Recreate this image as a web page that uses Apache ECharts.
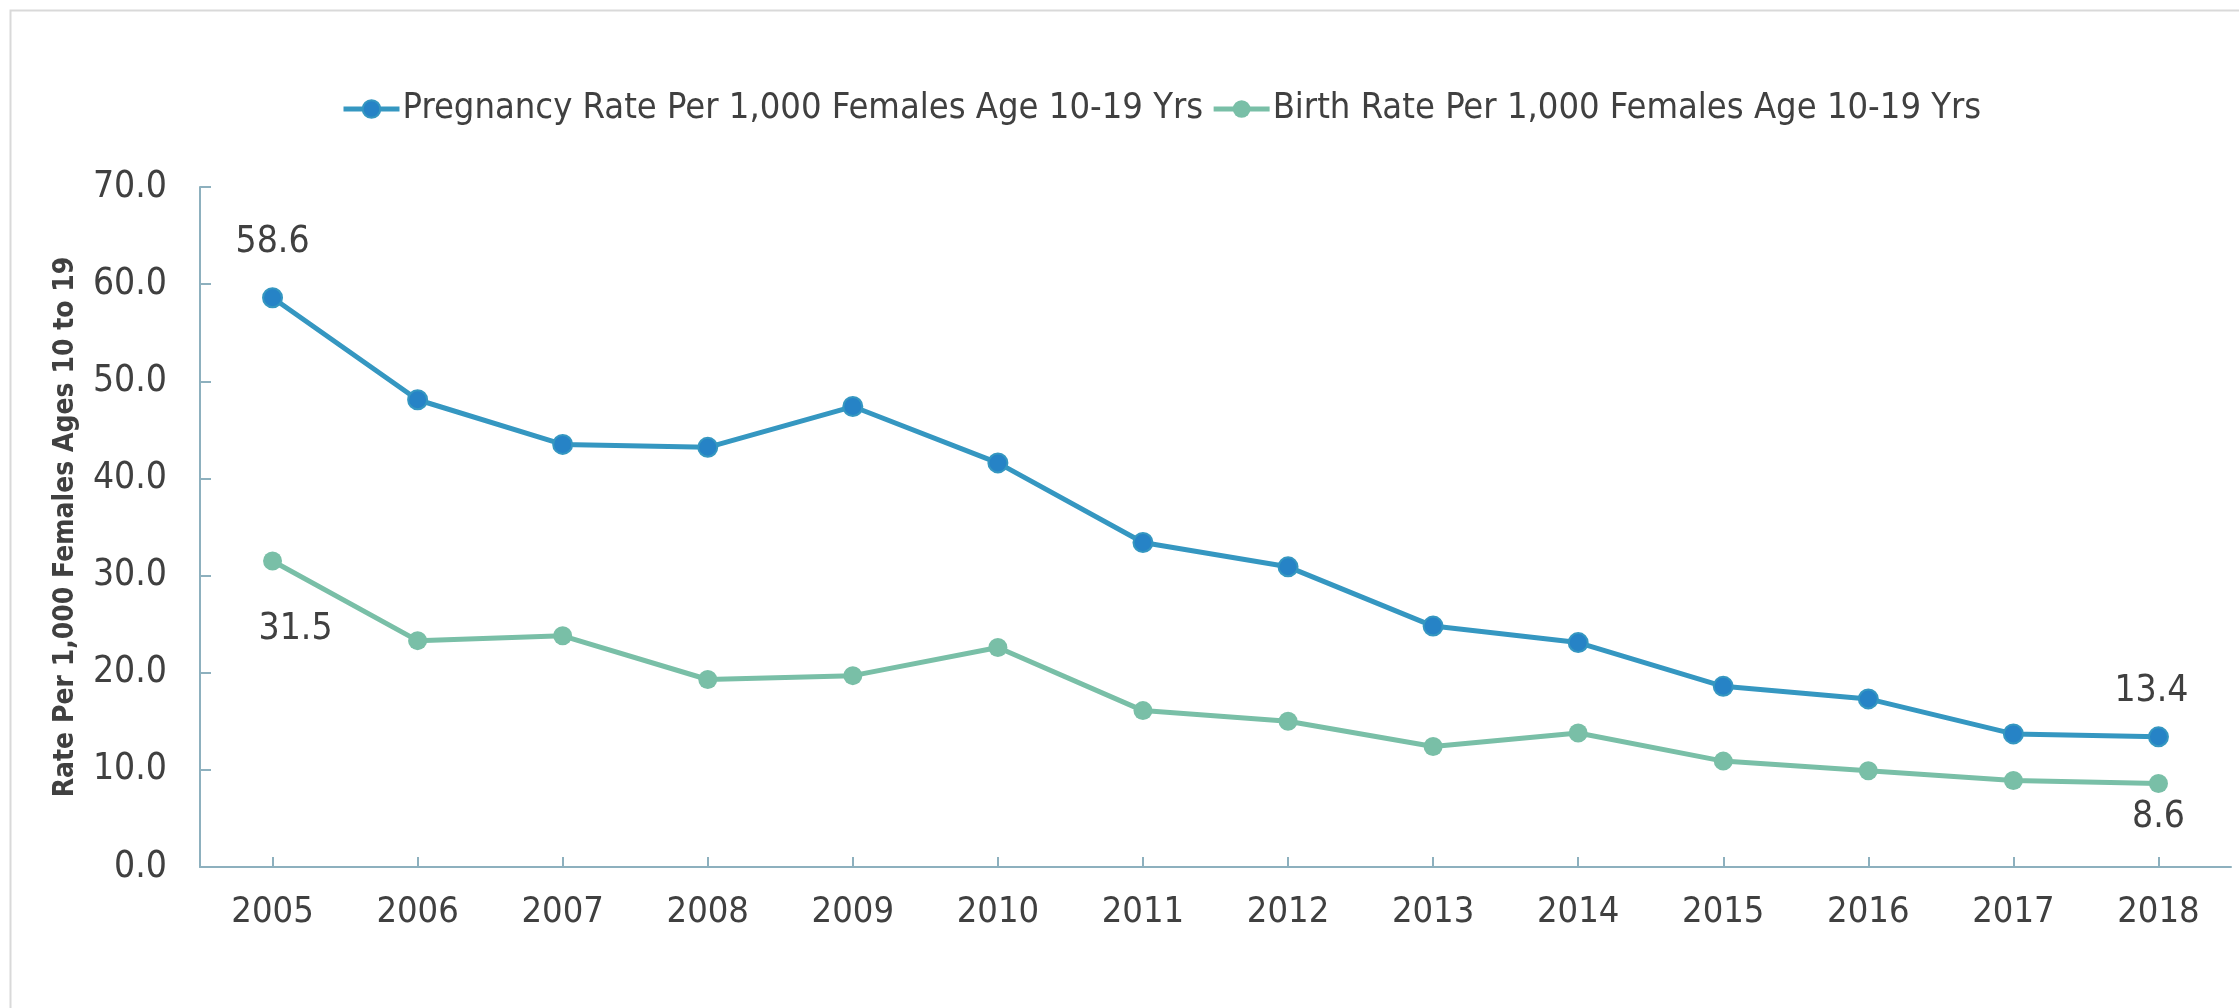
<!DOCTYPE html>
<html>
<head>
<meta charset="utf-8">
<script src="https://cdn.jsdelivr.net/npm/echarts@6/dist/echarts.min.js"></script>
<style>
  html, body { margin: 0; padding: 0; background: #fff; }
  #chart { width: 2239px; height: 1008px; }
</style>
</head>
<body>
<div id="chart"></div>
<script>
  // data
  var years = ['2005', '2006', '2007', '2008', '2009', '2010', '2011', '2012', '2013', '2014', '2015', '2016', '2017', '2018']
  var pregnancyRate = [58.6, 48.1, 43.5, 43.2, 47.4, 41.6, 33.4, 30.9, 24.8, 23.1, 18.6, 17.3, 13.7, 13.4]
  var birthRate = [31.5, 23.3, 23.8, 19.3, 19.7, 22.6, 16.1, 15.0, 12.4, 13.8, 10.9, 9.9, 8.9, 8.6]
  var yTicks = [0, 10, 20, 30, 40, 50, 60, 70]
  var seriesNames = ['Pregnancy Rate Per 1,000 Females Age 10-19 Yrs', 'Birth Rate Per 1,000 Females Age 10-19 Yrs']

  var fontName = '"DejaVu Sans Condensed", "Noto Sans", sans-serif'
  var textColor = '#404040'
  var axisColor = '#8db0be'

  // only the first and last points carry a label
  function withEndLabels (values, firstLabel, lastLabel) {
    var last = values.length - 1
    return values.map(function (v, i) {
      if (i === 0) return { value: v, label: firstLabel }
      if (i === last) return { value: v, label: lastLabel }
      return v
    })
  }

  var labelBase = {
    show: true,
    fontFamily: fontName,
    fontSize: 37,
    color: textColor,
    formatter: function (p) { return p.value.toFixed(1) }
  }

  var chart = echarts.init(document.getElementById('chart'))
  var option = {
    backgroundColor: '#fff',
    animation: false,
    graphic: [
      {
        type: 'rect',
        left: 8,
        top: 8,
        shape: { width: 2260, height: 1030 },
        style: { fill: 'none', stroke: '#d9d9d9', lineWidth: 2 },
        silent: true
      }
    ],
    legend: {
      data: seriesNames,
      top: 86,
      left: 336,
      itemWidth: 56,
      itemHeight: 22,
      itemGap: 8,
      lineStyle: { width: 5 },
      textStyle: {
        fontFamily: fontName,
        fontSize: 36,
        color: textColor,
        padding: [0, 0, 0, -2]
      }
    },
    grid: {
      left: 200,
      right: 8,
      top: 187,
      bottom: 141,
      containLabel: false
    },
    xAxis: {
      type: 'category',
      data: years,
      boundaryGap: true,
      axisLine: { lineStyle: { color: axisColor, width: 2 } },
      axisTick: { show: true, inside: true, alignWithLabel: true, length: 10, lineStyle: { color: axisColor, width: 2 } },
      axisLabel: { fontFamily: fontName, fontSize: 36, color: textColor, margin: 28 },
      splitLine: { show: false }
    },
    yAxis: {
      type: 'value',
      min: yTicks[0],
      max: yTicks[yTicks.length - 1],
      interval: 10,
      name: 'Rate Per 1,000 Females Ages 10 to 19',
      nameLocation: 'middle',
      nameGap: 120,
      nameTextStyle: { fontFamily: fontName, fontSize: 28, fontWeight: 'bold', color: textColor },
      axisLine: { show: true, lineStyle: { color: axisColor, width: 2 } },
      axisTick: { show: true, inside: true, length: 11, lineStyle: { color: axisColor, width: 2 } },
      axisLabel: {
        fontFamily: fontName,
        fontSize: 37,
        color: textColor,
        margin: 33,
        formatter: function (v) { return v.toFixed(1) }
      },
      splitLine: { show: false }
    },
    series: [
      {
        name: seriesNames[0],
        type: 'line',
        symbol: 'circle',
        symbolSize: 19,
        lineStyle: { color: '#3597c1', width: 5 },
        itemStyle: { color: '#2683c6', borderColor: '#3597c1', borderWidth: 2 },
        label: { show: false },
        data: withEndLabels(pregnancyRate,
          Object.assign({}, labelBase, { position: 'top', distance: 26 }),
          Object.assign({}, labelBase, { position: 'top', distance: 16, offset: [-7, 0] }))
      },
      {
        name: seriesNames[1],
        type: 'line',
        symbol: 'circle',
        symbolSize: 19,
        lineStyle: { color: '#79bfa7', width: 5 },
        itemStyle: { color: '#79bfa7', borderColor: '#79bfa7', borderWidth: 0 },
        label: { show: false },
        data: withEndLabels(birthRate,
          Object.assign({}, labelBase, { position: 'bottom', distance: 40, offset: [23, 0] }),
          Object.assign({}, labelBase, { position: 'bottom', distance: 6 }))
      }
    ]
  }
  chart.setOption(option)
  window.addEventListener('resize', function () {
    chart.resize()
  })
</script>
</body>
</html>
